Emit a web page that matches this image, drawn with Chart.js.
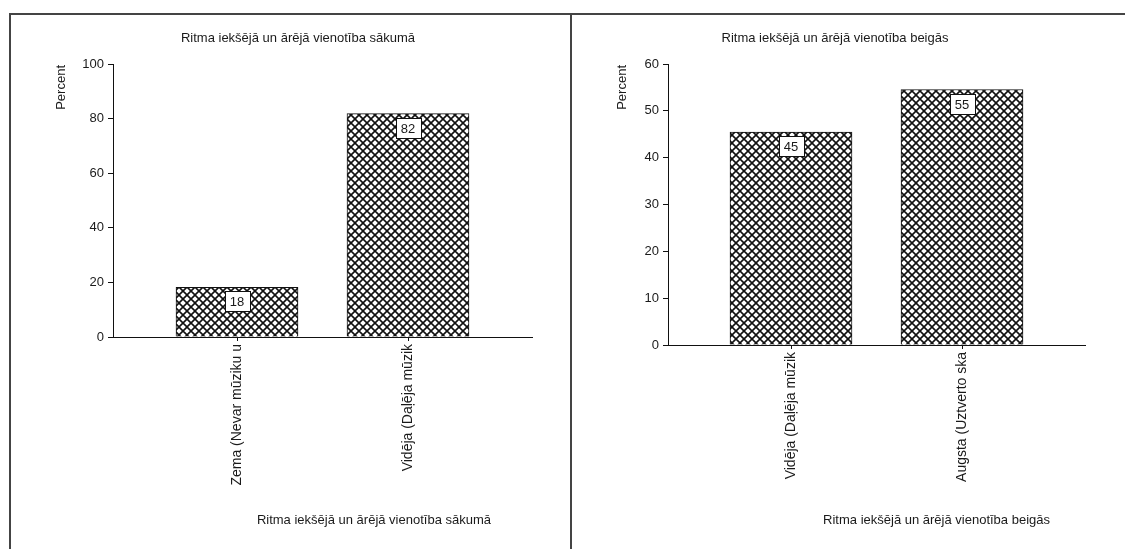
<!DOCTYPE html>
<html>
<head>
<meta charset="utf-8">
<script src="https://cdn.jsdelivr.net/npm/chart.js@4/dist/chart.umd.min.js"></script>
<style>
  html, body { margin: 0; padding: 0; background: #fff; }
  body { width: 1125px; height: 549px; position: relative; overflow: hidden; }
  .line { position: absolute; background: #444; }
  canvas { position: absolute; }
</style>
</head>
<body>
<div class="line" style="left:9px; top:13px; width:1116px; height:2px;"></div>
<div class="line" style="left:9px; top:13px; width:2px; height:536px;"></div>
<div class="line" style="left:570px; top:13px; width:2px; height:536px;"></div>
<canvas id="left" width="558" height="534" style="left:11px; top:15px;"></canvas>
<canvas id="right" width="553" height="534" style="left:572px; top:15px;"></canvas>
<script>
// data
const startLabels = ['Zema (Nevar mūziku u', 'Vidēja (Daļēja mūzik'];
const startValues = [18.18, 81.82];
const endLabels = ['Vidēja (Daļēja mūzik', 'Augsta (Uztverto ska'];
const endValues = [45.45, 54.55];
const startTitle = 'Ritma iekšējā un ārējā vienotība sākumā';
const endTitle = 'Ritma iekšējā un ārējā vienotība beigās';
const yTitle = 'Percent';

const FONT = '"Liberation Sans", Arial, sans-serif';
const INK = '#1a1a1a';

function hatch() {
  const c = document.createElement('canvas');
  c.width = 8; c.height = 8;
  const g = c.getContext('2d');
  g.fillStyle = '#fff';
  g.fillRect(0, 0, 8, 8);
  g.strokeStyle = '#111';
  g.lineWidth = 1.6;
  g.beginPath();
  g.moveTo(-1, -1); g.lineTo(9, 9);
  g.moveTo(-1, 9); g.lineTo(9, -1);
  g.stroke();
  return g.createPattern(c, 'repeat');
}

// boxed value labels + titles
const textPlugin = {
  id: 'texts',
  afterDatasetsDraw(chart, args, opts) {
    const ctx = chart.ctx;
    const area = chart.chartArea;
    ctx.save();
    ctx.font = '13px ' + FONT;
    ctx.textAlign = 'center';
    ctx.textBaseline = 'middle';
    chart.getDatasetMeta(0).data.forEach((bar, i) => {
      const txt = String(Math.round(chart.data.datasets[0].data[i].y));
      const w = Math.round(ctx.measureText(txt).width + 11);
      const h = 20;
      const top = Math.round(bar.y + 4);
      const left = Math.round(bar.x - w / 2);
      ctx.fillStyle = '#fff';
      ctx.fillRect(left, top, w, h);
      ctx.strokeStyle = '#111';
      ctx.lineWidth = 1;
      ctx.strokeRect(left + 0.5, top + 0.5, w, h);
      ctx.fillStyle = INK;
      ctx.fillText(txt, bar.x, top + h / 2 + 1);
    });
    // chart title
    ctx.fillText(opts.title, opts.titleX, 23);
    // x axis title
    ctx.textAlign = 'right';
    ctx.fillText(opts.title, opts.xTitleRight, 505);
    // y axis title
    ctx.translate(opts.yTitleX, area.top + 1);
    ctx.rotate(-Math.PI / 2);
    ctx.textAlign = 'right';
    ctx.fillText(yTitle, 0, 0);
    ctx.restore();
  }
};

function makeChart(id, labels, values, title, yMax, yStep, box) {
  const cv = document.getElementById(id);
  const W = cv.width, H = cv.height;
  const half = (box.right - box.left) / box.spacing / 2;
  new Chart(cv, {
    type: 'bar',
    data: {
      datasets: [{
        data: values.map((v, i) => ({ x: i, y: v })),
        backgroundColor: hatch(),
        borderColor: '#111',
        borderWidth: 1,
        barThickness: 122
      }]
    },
    options: {
      responsive: false,
      animation: false,
      layout: { padding: { top: 49, right: W - box.right, left: 0, bottom: 0 } },
      plugins: {
        legend: { display: false },
        tooltip: { enabled: false },
        texts: { title: title, titleX: box.titleX, xTitleRight: box.xTitleRight, yTitleX: box.yTitleX }
      },
      scales: {
        x: {
          type: 'linear',
          min: 0.5 - half,
          max: 0.5 + half,
          offset: false,
          afterFit(s) { s.height = H - 49 - box.plotH; },
          afterBuildTicks(s) { s.ticks = labels.map((_, i) => ({ value: i })); },
          grid: { display: true, offset: false, drawOnChartArea: false, drawTicks: true, tickLength: 4, color: '#111' },
          border: { display: true, color: '#111', width: 1 },
          ticks: {
            autoSkip: false, minRotation: 90, maxRotation: 90, padding: 3,
            color: INK, font: { family: FONT, size: 14 },
            callback: (v) => labels[v]
          }
        },
        y: {
          min: 0, max: yMax,
          afterFit(s) { s.width = box.left; },
          grid: { display: true, drawOnChartArea: false, drawTicks: true, tickLength: 5, color: '#111' },
          border: { display: true, color: '#111', width: 1 },
          ticks: { stepSize: yStep, padding: 4, color: INK, font: { family: FONT, size: 13 } }
        }
      }
    },
    plugins: [textPlugin]
  });
}

makeChart('left', startLabels, startValues, startTitle, 100, 20,
  { left: 102, right: 521, spacing: 171, plotH: 273, titleX: 287, xTitleRight: 480, yTitleX: 50 });
makeChart('right', endLabels, endValues, endTitle, 60, 10,
  { left: 96, right: 513, spacing: 171, plotH: 281, titleX: 263, xTitleRight: 478, yTitleX: 50 });
</script>
</body>
</html>
